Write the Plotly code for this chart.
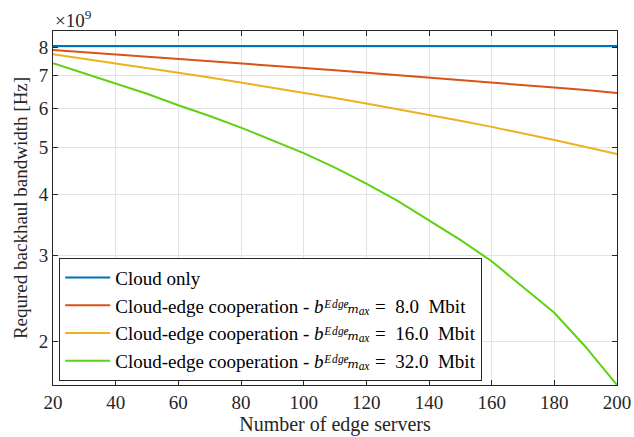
import plotly.graph_objects as go
import math

x_servers = [20, 30, 40, 50, 60, 70, 80, 90, 100, 110, 120, 130, 140, 150, 160, 170, 180, 190, 200]
cloud_only = [8.05e9] * len(x_servers)
coop_8 = [7.90e9, 7.82e9, 7.74e9, 7.66e9, 7.58e9, 7.50e9, 7.42e9, 7.34e9, 7.26e9, 7.18e9,
          7.10e9, 7.02e9, 6.94e9, 6.86e9, 6.78e9, 6.70e9, 6.62e9, 6.54e9, 6.45e9]
coop_16 = [7.74e9, 7.58e9, 7.42e9, 7.26e9, 7.10e9, 6.94e9, 6.78e9, 6.62e9, 6.46e9, 6.30e9,
           6.14e9, 5.98e9, 5.82e9, 5.66e9, 5.50e9, 5.34e9, 5.17e9, 5.00e9, 4.84e9]
coop_32 = [7.42e9, 7.08e9, 6.76e9, 6.43e9, 6.09e9, 5.79e9, 5.48e9, 5.17e9, 4.86e9, 4.54e9,
           4.21e9, 3.88e9, 3.54e9, 3.23e9, 2.92e9, 2.59e9, 2.29e9, 1.95e9, 1.63e9]

series_names = [
    "Cloud only",
    "Cloud-edge cooperation - <i>b</i><i>ᴱᵈᵍᵉ</i><i>ₘₐₓ</i> =  8.0  Mbit",
    "Cloud-edge cooperation - <i>b</i><i>ᴱᵈᵍᵉ</i><i>ₘₐₓ</i> =  16.0  Mbit",
    "Cloud-edge cooperation - <i>b</i><i>ᴱᵈᵍᵉ</i><i>ₘₐₓ</i> =  32.0  Mbit",
]
series_values = [cloud_only, coop_8, coop_16, coop_32]
colors = ["#0072BD", "#D95319", "#EDB120", "#5ED212"]

y_tickvals = [2e9, 3e9, 4e9, 5e9, 6e9, 7e9, 8e9]
y_ticktext = ["2", "3", "4", "5", "6", "7", "8"]
x_tickvals = [20, 40, 60, 80, 100, 120, 140, 160, 180, 200]

font_family = "Liberation Serif, DejaVu Serif, serif"

fig = go.Figure()
for name, vals, c in zip(series_names, series_values, colors):
    fig.add_trace(go.Scatter(x=x_servers, y=vals, mode="lines", name=name,
                             line=dict(color=c, width=2)))

fig.update_layout(
    width=634, height=437,
    margin=dict(l=53, r=17, t=31, b=52),
    paper_bgcolor="white", plot_bgcolor="white",
    font=dict(family=font_family, size=19, color="#262626"),
    showlegend=True,
    legend=dict(x=0.011, y=0.012, xanchor="left", yanchor="bottom",
                bgcolor="white", bordercolor="#262626", borderwidth=1,
                font=dict(size=19, family=font_family, color="#000000"),
                tracegroupgap=0, itemwidth=45),
)
fig.update_xaxes(
    range=[20, 200], tickvals=x_tickvals, automargin=False,
    showgrid=True, gridcolor="#E3E3E3", gridwidth=1,
    ticks="inside", ticklen=5, tickcolor="#262626",
    showline=True, linecolor="#262626", linewidth=1, mirror="ticks",
    zeroline=False,
    title=dict(text="Number of edge servers", standoff=4, font=dict(size=20)),
    tickfont=dict(size=19),
)
fig.update_yaxes(
    type="log", range=[math.log10(1.63e9), math.log10(8.64e9)],
    tickvals=y_tickvals, ticktext=y_ticktext, automargin=False,
    showgrid=True, gridcolor="#E3E3E3", gridwidth=1,
    ticks="inside", ticklen=5, tickcolor="#262626",
    showline=True, linecolor="#262626", linewidth=1, mirror="ticks",
    zeroline=False,
    title=dict(text="Requred backhaul bandwidth [Hz]", standoff=6, font=dict(size=19)),
    tickfont=dict(size=19),
)
fig.add_annotation(text="×10<sup>9</sup>", xref="paper", yref="paper", x=0.0, y=1.0,
                   xanchor="left", yanchor="bottom", showarrow=False,
                   font=dict(size=19, family=font_family, color="#262626"), yshift=-2)

fig.write_html("out.html", config={"displayModeBar": False},
               post_script="document.body.style.margin='0';document.body.style.padding='0';")
